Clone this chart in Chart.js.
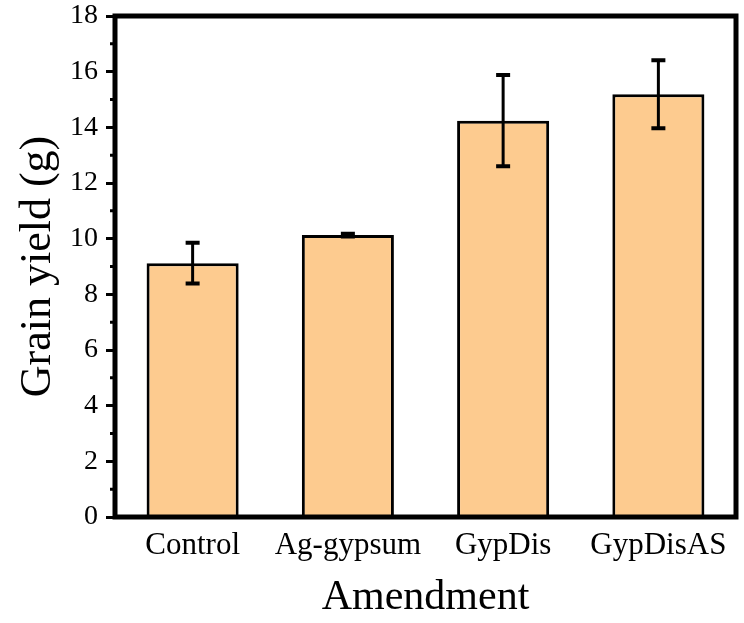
<!DOCTYPE html>
<html><head><meta charset="utf-8">
<script src="https://cdn.jsdelivr.net/npm/chart.js@4/dist/chart.umd.min.js"></script>
<style>html,body{margin:0;padding:0;background:#fff}#c{display:block}</style>
</head><body>
<canvas id="c" width="744" height="623"></canvas>
<script>
const amendments=["Control","Ag-gypsum","GypDis","GypDisAS"];
const yieldMean=[9.12,10.13,14.24,15.19];
const yieldSd=[0.73,0.05,1.64,1.22];
const minorTicks=[1,3,5,7,9,11,13,15,17];

const FILL="#FDCB8F",INK="#000";
const SERIF="'Liberation Serif','Times New Roman',serif";

// frame + minor ticks + error bars, all through the scales
const extras={id:"extras",
  afterDatasetsDraw(ch){
    const c=ch.ctx,a=ch.chartArea,y=ch.scales.y,meta=ch.getDatasetMeta(0);
    c.save();c.strokeStyle=INK;c.lineCap="butt";
    // error bars
    c.lineWidth=3;
    meta.data.forEach((b,i)=>{
      const hi=y.getPixelForValue(yieldMean[i]+yieldSd[i]),lo=y.getPixelForValue(yieldMean[i]-yieldSd[i]);
      c.beginPath();c.moveTo(b.x,hi);c.lineTo(b.x,lo);c.stroke();
      c.lineWidth=4;c.beginPath();
      c.moveTo(b.x-7,hi);c.lineTo(b.x+7,hi);c.moveTo(b.x-7,lo);c.lineTo(b.x+7,lo);c.stroke();
      c.lineWidth=3;
    });
    // minor ticks
    c.lineWidth=3;c.beginPath();
    minorTicks.forEach(v=>{const p=y.getPixelForValue(v);c.moveTo(a.left-5,p);c.lineTo(a.left,p);});
    c.stroke();
    // box
    c.lineWidth=5;c.strokeRect(a.left,a.top,a.right-a.left,a.bottom-a.top);
    c.restore();
  }};

new Chart(document.getElementById("c"),{
  type:"bar",
  data:{labels:amendments,datasets:[{data:yieldMean,backgroundColor:FILL,borderColor:INK,borderWidth:3,
    categoryPercentage:1,barPercentage:0.593}]},
  options:{responsive:false,animation:false,
    layout:{padding:{left:0,top:16,right:8,bottom:0}},
    plugins:{legend:{display:false},tooltip:{enabled:false}},
    scales:{
      x:{grid:{display:false,drawTicks:false},border:{display:false},
        ticks:{color:INK,padding:10,maxRotation:0,font:{family:SERIF,size:31}},
        title:{display:true,text:"Amendment",color:INK,font:{family:SERIF,size:42},padding:{top:0,bottom:0}},
        afterFit:s=>{s.height=106;}},
      y:{min:0,max:18,
        grid:{drawOnChartArea:false,drawTicks:true,tickLength:9,tickWidth:3,tickColor:INK},border:{display:false},
        ticks:{stepSize:2,color:INK,padding:8,font:{family:SERIF,size:28}},
        title:{display:true,text:"Grain yield (g)",color:INK,font:{family:SERIF,size:44},padding:{top:12,bottom:0}},
        afterFit:s=>{s.width=115;s.paddingTop=0;s.paddingBottom=0;}}
    }},
  plugins:[extras]
});
</script>
</body></html>
